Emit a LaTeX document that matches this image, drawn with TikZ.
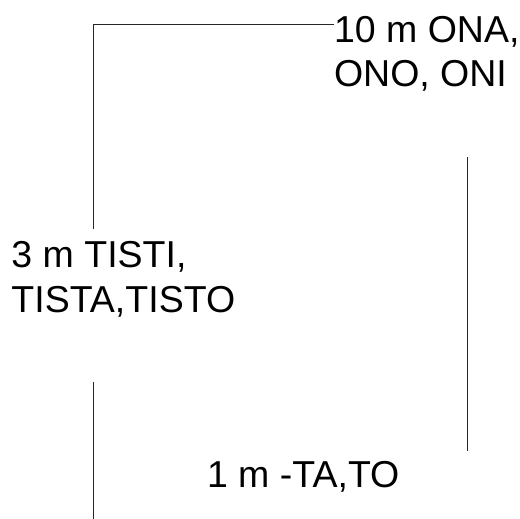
\documentclass[tikz,border=0pt]{standalone}
\usepackage{fontspec}
\setmainfont{Liberation Sans}
\begin{document}
\begin{tikzpicture}[x=1pt,y=-1pt,
  lbl/.style={inner sep=0pt,outer sep=0pt,anchor=base west,align=left,
    font=\fontsize{37.5}{44.5}\selectfont},
  conn/.style={line width=0.9pt,black!85}]
\useasboundingbox (0,0) rectangle (520,519);
\node[lbl] (ona) at (334,87) {10 m ONA,\\ONO, ONI};
\node[lbl] (tisti) at (11.5,312) {3 m TISTI,\\TISTA,TISTO};
\node[lbl] (tato) at (207,487) {1 m -TA,TO};
\coordinate (tl) at (93,229);
\coordinate (tr) at (334,24);
\coordinate (r1) at (467,157);
\coordinate (r2) at (467,451);
\coordinate (b1) at (93,382);
\coordinate (b2) at (93,519);
\draw[conn] (tl) |- (tr);
\draw[conn] (r1) -- (r2);
\draw[conn] (b1) -- (b2);
\end{tikzpicture}
\end{document}
